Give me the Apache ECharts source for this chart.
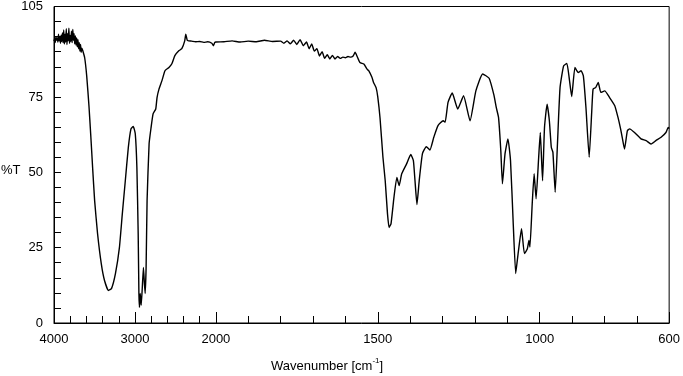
<!DOCTYPE html>
<html>
<head>
<meta charset="utf-8">
<script src="https://cdn.jsdelivr.net/npm/echarts@6/dist/echarts.min.js"></script>
<style>
  html, body { margin: 0; padding: 0; background: #fff; }
  #chart { width: 683px; height: 376px; }
</style>
</head>
<body>
<div id="chart"></div>
<script>
// wavenumber (cm-1) and transmittance (%T)
const wavenumbers = [
  4000, 3992, 3984, 3976, 3968, 3960, 3952, 3944, 3936, 3928, 3920, 3912, 3904, 3896, 3888, 3880,
  3872, 3864, 3856, 3848, 3840, 3832, 3824, 3816, 3808, 3800, 3792, 3784, 3776, 3768, 3760, 3752,
  3744, 3736, 3728, 3720, 3712, 3704, 3696, 3688, 3680, 3672, 3664, 3656, 3645, 3621, 3596, 3568,
  3547, 3523, 3498, 3462,
  3416, 3376, 3327, 3290, 3241, 3192, 3156, 3119, 3082, 3049, 3021, 2996, 2976, 2960, 2951, 2944,
  2935, 2923, 2911, 2895, 2883, 2874, 2862, 2850, 2825, 2801, 2776, 2743, 2727, 2703, 2666, 2629,
  2580, 2544, 2507, 2458, 2421, 2385, 2372, 2354, 2336, 2300, 2250, 2200, 2150, 2100, 2050, 2030,
  2015, 2000, 1975, 1950, 1925, 1900, 1875, 1850, 1825, 1800, 1790, 1780, 1770, 1760, 1750, 1740,
  1730, 1720, 1712, 1704, 1696, 1688, 1680, 1672, 1664, 1656, 1648, 1640, 1632, 1624, 1616, 1608,
  1600, 1592, 1584, 1576, 1570, 1564, 1555, 1543, 1533, 1528, 1518, 1513, 1505, 1500, 1493, 1484,
  1477, 1470, 1465, 1459, 1450, 1441, 1434, 1426, 1411, 1398, 1390, 1385, 1379, 1372, 1362, 1350,
  1339, 1327, 1314, 1298, 1292, 1283, 1270, 1253, 1235, 1215, 1197, 1176, 1156, 1141, 1134, 1127,
  1120, 1115, 1107, 1098, 1090, 1082, 1074, 1069, 1064, 1056, 1047, 1038, 1033, 1030, 1023, 1017,
  1011, 1003, 998, 991, 985, 977, 970, 964, 959, 952, 945, 937, 926, 916, 909, 901,
  891, 881, 872, 865, 857, 847, 839, 835, 827, 819, 811, 799, 784, 768, 758, 750,
  745, 738, 729, 722, 707, 687, 671, 656, 641, 625, 610, 603, 600
]
const transmittance = [
  93.5, 94.5, 93, 95, 93.8, 94.6, 93.2, 95.8, 93.6, 94.8, 92.8, 95.5, 93.4, 96.2, 93, 97.2,
  92.6, 95.8, 93.2, 97.6, 92.4, 96, 93.6, 97.8, 92.8, 95.4, 93.4, 96.8, 93, 97.4, 93.8, 96,
  92.6, 95.2, 92.2, 94.6, 91.6, 94, 91, 93, 90.2, 92.4, 89.8, 91.2, 90.4, 88, 82, 72,
  62.8, 51.6, 40.6, 29.7,
  19.7, 14.1, 10.8, 11.4, 16.4, 25, 36.2, 47.2, 58.2, 64.4, 65.2, 62.8, 51.6, 29.7, 9.8, 5.2,
  9.8, 5.9, 10.8, 18.4, 13.1, 9.8, 18.4, 40.6, 59.5, 64.8, 69.4, 71, 74.8, 77.6, 80.4, 83.7,
  84.8, 86, 88.7, 90.3, 91, 93.6, 95.8, 93.8, 93.6, 93.5, 93.3, 93.4, 93.1, 93.3, 92.8, 92,
  93, 93.2, 93.3, 93.6, 93.2, 93.5, 93.3, 93.8, 93.4, 93.5, 92.8, 93.6, 92.6, 93.8, 92.4, 94,
  92, 93.2, 91, 92.6, 90.2, 91, 88.6, 90, 87.8, 89, 87.6, 88.8, 87.6, 88.4, 87.8, 88.2,
  88, 88.4, 88.2, 88.6, 89.8, 88.5, 86.4, 85.9, 84.2, 83.7, 81.5, 79.8, 78, 75, 68, 55,
  47.2, 36.3, 31.7, 33, 41.7, 48.3, 45.6, 49.5, 52.8, 55.9, 53.9, 47.2, 39.3, 47.2, 56.2, 58.5,
  57.4, 61.6, 65.5, 67.1, 66.6, 73.2, 76.3, 71, 75.4, 67.1, 77, 82.6, 81.2, 75.5, 71.5, 68.2,
  57.2, 46.2, 56.1, 61.1, 53.9, 34, 16.4, 20.8, 25.2, 31.3, 23, 24.6, 27.4, 25.2, 39.5, 49.5,
  41.2, 55, 63.2, 47.2, 64.9, 72.6, 67.1, 58.3, 56.6, 43.4, 59.4, 78.1, 85.3, 86.1, 81.5, 75.1,
  84.8, 83.1, 83.7, 82, 71.5, 55, 70.4, 77.6, 78.1, 79.8, 76.5, 77, 74.8, 72.1, 68.2, 64.4,
  61.6, 57.7, 63.8, 64.4, 63.2, 61.1, 60.5, 59.4, 60.5, 61.6, 63.2, 64.9, 64.5
]
const xTickLabels = [4000, 3000, 2000, 1500, 1000, 600]
const xMinorTicks = [3800, 3600, 3400, 3200, 2800, 2600, 2400, 2200, 1900, 1800, 1700, 1600,
  1400, 1300, 1200, 1100, 900, 800, 700]
const yTickLabels = [0, 25, 50, 75, 105]
const yTicks = [5, 10, 15, 20, 25, 30, 35, 40, 45, 50, 55, 60, 65, 70, 75, 80, 85, 90, 95, 100]

// the x scale changes at 2000: 4000-2000 is squeezed 4x
function toPos(w) {
  return w >= 2000 ? (4000 - w) / 4 : 500 + (2000 - w)
}
function toWave(u) {
  return u <= 500 ? Math.round(4000 - u * 4) : Math.round(2500 - u)
}

const chart = echarts.init(document.getElementById('chart'))
const font = 'Liberation Sans, Arial, sans-serif'

const option = {
  animation: false,
  title: [
    {
      text: '{a|Wavenumber [cm}{s|-1}{a|]}',
      left: 271,
      top: 357,
      padding: 0,
      textStyle: {
        rich: {
          a: { fontFamily: font, fontSize: 13, fontWeight: 'normal', color: '#000', lineHeight: 16, verticalAlign: 'bottom' },
          s: { fontFamily: font, fontSize: 8, fontWeight: 'normal', color: '#000', lineHeight: 16, verticalAlign: 'top' }
        }
      }
    },
    {
      text: '%T',
      left: 1,
      top: 164,
      padding: 0,
      textStyle: { fontFamily: font, fontSize: 13, fontWeight: 'normal', color: '#000' }
    }
  ],
  grid: {
    left: 54,
    right: 8,
    top: 6,
    bottom: 53,
    show: true,
    borderColor: '#000',
    borderWidth: 1
  },
  xAxis: [
    {
      type: 'value',
      min: 0,
      max: 1900,
      position: 'bottom',
      splitLine: { show: false },
      axisLine: { show: true, lineStyle: { color: '#000', width: 1 } },
      axisTick: {
        show: true,
        inside: true,
        length: 11,
        customValues: xTickLabels.map(toPos),
        lineStyle: { color: '#000', width: 1 }
      },
      axisLabel: {
        customValues: xTickLabels.map(toPos),
        formatter: (v) => toWave(v),
        margin: 10,
        fontFamily: font,
        fontSize: 13,
        color: '#000'
      }
    },
    {
      type: 'value',
      min: 0,
      max: 1900,
      position: 'bottom',
      splitLine: { show: false },
      axisLine: { show: false },
      axisTick: {
        show: true,
        inside: true,
        length: 7,
        customValues: xMinorTicks.map(toPos),
        lineStyle: { color: '#000', width: 1 }
      },
      axisLabel: { show: false }
    }
  ],
  yAxis: {
    type: 'value',
    min: 0,
    max: 105,
    splitLine: { show: false },
    axisLine: { show: true, lineStyle: { color: '#000', width: 1 } },
    axisTick: {
      show: true,
      inside: true,
      length: 7,
      customValues: yTicks,
      lineStyle: { color: '#000', width: 1 }
    },
    axisLabel: {
      customValues: yTickLabels,
      margin: 11,
      fontFamily: font,
      fontSize: 13,
      color: '#000'
    }
  },
  series: [
    {
      type: 'line',
      showSymbol: false,
      smooth: 0.15,
      xAxisIndex: 0,
      data: wavenumbers.map((w, i) => [toPos(w), transmittance[i]]),
      lineStyle: { color: '#000', width: 1.4 }
    }
  ]
}
chart.setOption(option)
</script>
</body>
</html>
